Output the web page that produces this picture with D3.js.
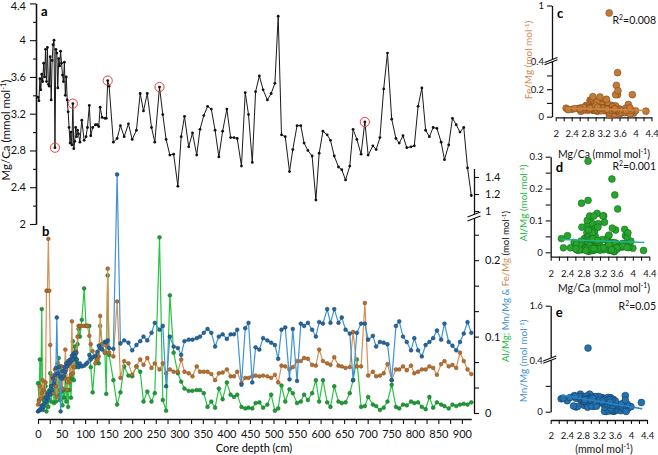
<!DOCTYPE html>
<html>
<head>
<meta charset="utf-8">
<script src="https://cdn.jsdelivr.net/npm/d3@7"></script>
<style>
body { margin: 0; background: #fff; }
svg { font-family: Lato, "Liberation Sans", sans-serif; }
</style>
</head>
<body>
<svg id="chart" width="658" height="455"></svg>
<script>
// core depth (cm) of each sample
const depth = [0,2,4,6,8,10,12,14,16,18,20,22,24,26,28,30,32,34,36,38,40,42,44,46,48,50,52,54,56,58,60,62,64,66,68,70,72,74,76,78,80,82,84,86,
  89,93,98,102,105,109,112,116,122,126,129,132,136,142,145,148,151,160,168,175,183,192,200,209,217,224,232,241,248,258,265,272,280,288,297,304,311,320,328,337,344,352,360,368,376,384,392,401,409,416,423,
  432,440,447,455,462,470,478,487,495,503,510,517,525,534,541,550,558,565,573,582,590,597,605,614,621,629,638,645,653,662,669,677,686,694,701,711,718,726,734,742,751,760,767,775,783,792,799,807,815,823,831,839,847,856,863,872,880,888,896,904,912,920];

// Mg/Ca (mmol/mol)
const mgCa = [3.38,3.34,3.58,3.46,3.63,3.55,3.75,3.6,3.9,3.55,3.92,3.52,3.5,3.82,3.35,3.78,3.95,4.0,2.83,3.9,3.86,3.48,3.8,3.72,3.88,3.75,3.62,3.55,3.76,3.4,3.6,3.35,3.22,3.05,2.88,3.0,2.86,3.31,2.82,2.9,3.05,2.95,3.02,2.98,
  2.89,3.13,2.91,2.95,3.05,3.29,2.96,3.05,3.08,3.08,3.06,3.27,3.16,3.15,3.15,3.56,3.5,2.89,2.93,3.07,2.95,3.09,2.92,3.02,3.42,3.23,3.42,3.05,2.89,3.49,3.19,2.92,2.75,2.76,2.41,2.95,3.17,2.84,2.99,2.75,3.03,3.18,3.28,3.25,3.02,2.73,3.01,3.25,2.94,2.94,2.93,
  2.63,3.43,3.19,2.67,3.44,3.61,3.46,3.35,3.42,3.53,4.26,2.97,2.95,2.57,2.81,3.07,3.07,2.88,2.8,2.74,2.26,2.77,3.01,2.97,2.91,2.74,2.62,2.59,2.48,2.63,3.03,2.92,2.76,3.11,2.75,2.85,2.81,2.94,3.47,3.86,3.14,2.93,2.88,2.96,2.83,2.84,2.85,3.28,3.48,3.02,2.95,3.05,3.04,2.89,2.7,2.86,3.15,3.08,3.0,3.05,2.61,2.31];

// Fe/Mg (mol/mol)
const feMg = [0.011,0.015,0.035,0.019,0.026,0.043,0.03,0.02,0.04,0.16,0.16,0.228,0.16,0.089,0.035,0.048,0.026,0.043,0.057,0.035,0.021,0.065,0.054,0.03,0.048,0.061,0.032,0.05,0.045,0.083,0.057,0.03,0.045,0.04,0.065,0.05,0.12,0.052,0.06,0.07,0.081,0.079,0.1,0.114,
  0.114,0.114,0.114,0.114,0.114,0.101,0.09,0.081,0.065,0.07,0.074,0.127,0.09,0.079,0.088,0.189,0.079,0.074,0.146,0.046,0.068,0.065,0.05,0.061,0.07,0.063,0.072,0.059,0.065,0.057,0.065,0.052,0.057,0.054,0.054,0.07,0.054,0.052,0.048,0.061,0.054,0.054,0.054,0.051,0.043,0.052,0.053,0.057,0.048,0.048,0.054,
  0.039,0.046,0.046,0.048,0.049,0.048,0.049,0.048,0.046,0.05,0.04,0.062,0.061,0.057,0.06,0.068,0.068,0.072,0.071,0.063,0.062,0.083,0.068,0.065,0.063,0.073,0.062,0.061,0.059,0.06,0.106,0.061,0.061,0.144,0.049,0.054,0.048,0.049,0.052,0.064,0.043,0.057,0.057,0.061,0.056,0.062,0.052,0.054,0.057,0.057,0.061,0.059,0.05,0.064,0.068,0.061,0.063,0.059,0.079,0.068,0.057,0.051];

// Al/Mg (mol/mol)
const alMg = [0.039,0.017,0.07,0.03,0.136,0.008,0.017,0.028,0.035,0.002,0.021,0.008,0.03,0.052,0.015,0.026,0.035,0.013,0.043,0.015,0.048,0.024,0.072,0.017,0.061,0.028,0.01,0.03,0.02,0.05,0.015,0.04,0.008,0.03,0.061,0.02,0.045,0.094,0.043,0.087,0.06,0.07,0.09,0.11,
  0.1,0.122,0.163,0.114,0.114,0.114,0.06,0.027,0.074,0.074,0.065,0.114,0.09,0.079,0.025,0.18,0.076,0.043,0.011,0.027,0.061,0.049,0.048,0.061,0.054,0.015,0.028,0.015,0.026,0.23,0.017,0.003,0.154,0.079,0.052,0.041,0.032,0.029,0.029,0.03,0.03,0.026,0.008,0.015,0.007,0.032,0.018,0.04,0.024,0.021,0.024,
  0.008,0.006,0.007,0.006,0.013,0.014,0.007,0.011,0.024,0.003,0.006,0.036,0.015,0.031,0.026,0.013,0.015,0.024,0.017,0.026,0.043,0.015,0.043,0.014,0.008,0.035,0.015,0.013,0.014,0.026,0.043,0.07,0.008,0.009,0.021,0.011,0.009,0.004,0.007,0.015,0.037,0.008,0.006,0.011,0.01,0.015,0.013,0.014,0.008,0.005,0.021,0.007,0.014,0.011,0.009,0.006,0.011,0.009,0.011,0.012,0.011,0.014];

// Mn/Mg (mol/mol)
const mnMg = [0.002,0.003,0.004,0.006,0.01,0.004,0.008,0.012,0.02,0.015,0.025,0.019,0.028,0.024,0.035,0.03,0.045,0.039,0.05,0.059,0.125,0.052,0.06,0.048,0.002,0.045,0.055,0.048,0.06,0.054,0.065,0.061,0.068,0.065,0.07,0.068,0.075,0.07,0.078,0.074,0.079,0.07,0.065,0.06,
  0.065,0.061,0.062,0.064,0.066,0.076,0.07,0.073,0.075,0.08,0.088,0.085,0.083,0.093,0.093,0.095,0.085,0.084,1.43,0.091,0.095,0.092,0.082,0.089,0.094,0.1,0.095,0.105,0.118,0.109,0.114,0.035,0.1,0.087,0.085,0.076,0.094,0.096,0.096,0.098,0.1,0.105,0.11,0.105,0.087,0.1,0.103,0.097,0.103,0.103,0.109,
  0.037,0.111,0.118,0.04,0.086,0.083,0.098,0.095,0.092,0.089,0.071,0.109,0.112,0.044,0.11,0.042,0.117,0.114,0.118,0.109,0.1,0.119,0.117,0.136,0.118,0.136,0.118,0.125,0.109,0.104,0.043,0.105,0.117,0.117,0.096,0.101,0.087,0.093,0.092,0.09,0.043,0.114,0.12,0.1,0.093,0.082,0.098,0.082,0.074,0.089,0.093,0.098,0.108,0.096,0.117,0.093,0.088,0.082,0.093,0.104,0.119,0.105];

// samples circled in red in panel a (depth, cm)
const markedDepths = [36, 74, 148, 258, 694];

// points that only show up in the cross-plots [Mg/Ca, ratio]
const feMgExtra = [[3.34, 0.92], [3.55, 0.32]];
const alMgExtra = [[2.91, 0.286]];

// regression lines as drawn [Mg/Ca, ratio] end points
const fitFe = [[2.25, 0.062], [4.28, 0.045]];
const fitAl = [[2.27, 0.04], [4.28, 0.031]];
const fitMn = [[2.27, 0.128], [4.28, 0.022]];
const r2Labels = ["0.008", "0.001", "0.05"];

const mgCaTicks = [2, 2.4, 2.8, 3.2, 3.6, 4, 4.4];
const ratioTicks = [0, 0.1, 0.2, 1, 1.2, 1.4];

const svg = d3.select("#chart");
const ink = "#111";
const FONT = "Lato, 'Liberation Sans', sans-serif";

const samples = depth.map((d, i) => ({depth: d, mgCa: mgCa[i], fe: feMg[i], al: alMg[i], mn: mnMg[i]}));

function styleAxis(g, size) {
    g.attr("font-family", FONT).attr("font-size", size);
    g.select(".domain").attr("stroke", ink).attr("stroke-width", 1.3);
    g.selectAll(".tick line").attr("stroke", ink).attr("stroke-width", 1.1);
    g.selectAll(".tick text").attr("fill", ink);
}

// text made of coloured pieces, [string, colour, superscript?]
function richText(sel, parts) {
    parts.forEach(([s, c, sup]) => {
        const t = sel.append("tspan").text(s).attr("fill", c || ink);
        if (sup) t.attr("baseline-shift", "super").attr("font-size", "65%");
    });
    return sel;
}

function axisBreak(cx, cy, w, gap) {
    const g = svg.append("g");
    g.append("polygon")
        .attr("points", [[cx - w, cy + 2.5], [cx + w, cy - 2.5], [cx + w, cy - 2.5 + gap], [cx - w, cy + 2.5 + gap]].join(" "))
        .attr("fill", "#fff");
    [0, gap].forEach(o => g.append("line")
        .attr("x1", cx - w).attr("y1", cy + 2.5 + o)
        .attr("x2", cx + w).attr("y2", cy - 2.5 + o)
        .attr("stroke", ink).attr("stroke-width", 1.1));
}

// ---------- panel a : Mg/Ca vs depth ----------
const x = d3.scaleLinear().domain([0, 920]).range([38, 471.3]);
const yA = d3.scaleLinear().domain([2, 4.4]).range([224, 3.4]);

const gAminor = svg.append("g").attr("transform", "translate(36,0)")
    .call(d3.axisLeft(yA).tickValues(d3.range(2.2, 4.4, 0.4)).tickSize(3).tickSizeOuter(0).tickFormat(""));
styleAxis(gAminor, 11);
const gA = svg.append("g").attr("transform", "translate(36,0)")
    .call(d3.axisLeft(yA).tickValues(mgCaTicks).tickSize(6).tickSizeOuter(0).tickPadding(4).tickFormat(d => +d.toFixed(1)));
styleAxis(gA, 11);
gA.selectAll(".tick text").attr("dy", d => d === 4.4 ? "0.55em" : "0.32em");

richText(svg.append("text")
    .attr("transform", "translate(10,130) rotate(-90)")
    .attr("text-anchor", "middle").attr("font-size", 11.5).attr("font-family", FONT),
    [["Mg/Ca (mmol mol"], ["-1", ink, true], [")"]]);

const lineA = d3.line().x(d => x(d.depth)).y(d => yA(d.mgCa));
svg.append("path").datum(samples).attr("d", lineA)
    .attr("fill", "none").attr("stroke", "#1a1a1a").attr("stroke-width", 1);
svg.append("g").selectAll("circle").data(samples).join("circle")
    .attr("cx", d => x(d.depth)).attr("cy", d => yA(d.mgCa)).attr("r", 1.4).attr("fill", "#111");
svg.append("g").selectAll("circle").data(samples.filter(d => markedDepths.includes(d.depth))).join("circle")
    .attr("cx", d => x(d.depth)).attr("cy", d => yA(d.mgCa)).attr("r", 4.6)
    .attr("fill", "none").attr("stroke", "#e8413c").attr("stroke-width", 1);

svg.append("text").attr("x", 41).attr("y", 16).text("a")
    .attr("font-weight", "bold").attr("font-size", 13).attr("font-family", FONT);

// ---------- panel b : element ratios vs depth ----------
const yB = d3.scaleLinear().domain([0, 0.25, 1, 1.5]).range([413, 222, 211, 168.5]);

const gX = svg.append("g").attr("transform", "translate(0,419)")
    .call(d3.axisBottom(x).tickValues(d3.range(0, 901, 25)).tickSize(5).tickSizeOuter(0).tickPadding(6)
        .tickFormat(d => d % 50 === 0 ? d : ""));
styleAxis(gX, 11);
svg.append("text").attr("x", 254).attr("y", 452).attr("text-anchor", "middle")
    .attr("font-size", 11).attr("font-family", FONT).text("Core depth (cm)");

const bMinor = [1 / 30, 2 / 30, 4 / 30, 5 / 30, 7 / 30];
const gB = svg.append("g").attr("transform", "translate(474,0)")
    .call(d3.axisRight(yB).tickValues(ratioTicks.concat(bMinor)).tickSize(5).tickSizeOuter(0).tickPadding(6)
        .tickFormat(d => ratioTicks.includes(d) ? d : ""));
styleAxis(gB, 11);
axisBreak(474, 214.5, 6.5, 4);

richText(svg.append("text")
    .attr("transform", "translate(509,362) rotate(-90)")
    .attr("font-size", 9.6).attr("font-family", FONT),
    [["Al/Mg;", "#22b83c"], [" Mn/Mg &", "#3d92d8"], [" Fe/Mg", "#d08a4e"], [" (mol mol"], ["-1", ink, true], [")"]]);

const series = [
    {key: "al", line: "#2ac445", dot: "#1e9c37", edge: "#136b25"},
    {key: "fe", line: "#d4915a", dot: "#b66f30", edge: "#7f4c1c"},
    {key: "mn", line: "#3f93d6", dot: "#2466a0", edge: "#163f66"}
];
series.forEach(s => {
    const ln = d3.line().x(d => x(d.depth)).y(d => yB(d[s.key]));
    svg.append("path").datum(samples).attr("d", ln)
        .attr("fill", "none").attr("stroke", s.line).attr("stroke-width", 1.2);
    svg.append("g").selectAll("circle").data(samples).join("circle")
        .attr("cx", d => x(d.depth)).attr("cy", d => yB(d[s.key])).attr("r", 1.9)
        .attr("fill", s.dot).attr("stroke", s.edge).attr("stroke-width", 0.5);
});

svg.append("text").attr("x", 42).attr("y", 236).text("b")
    .attr("font-weight", "bold").attr("font-size", 13).attr("font-family", FONT);

// ---------- panels c, d, e : cross-plots against Mg/Ca ----------
const cross = [
    {
        id: "c", key: "fe", extra: feMgExtra, fit: fitFe, r2: r2Labels[0],
        x: d3.scaleLinear().domain([2, 4.4]).range([555.7, 651.5]),
        y: d3.scaleLinear().domain([0, 0.4, 1]).range([116.7, 61.7, 5.5]),
        yAxisX: 552, xAxisY: 117.3, xPad: 9,
        yTicks: [0, 0.1, 0.2, 0.3, 0.4, 1], yLabels: [0, 0.2, 0.4, 1], breakAt: 60,
        fill: "#c27a36", edge: "#7f4c1c", fitColor: "#cf8640", labelColor: "#d08a4e",
        name: "Fe/Mg", labelX: 532, labelY: 60, letterY: 18, r2Y: 24, title: "Mg/Ca (mmol mol", titleY: 158
    },
    {
        id: "d", key: "al", extra: alMgExtra, fit: fitAl, r2: r2Labels[1],
        x: d3.scaleLinear().domain([2, 4.4]).range([550.7, 649.3]),
        y: d3.scaleLinear().domain([-0.0138, 0.3]).range([256.7, 156.7]),
        yAxisX: 550.7, xAxisY: 256.7, xPad: 10,
        yTicks: [0, 0.05, 0.1, 0.15, 0.2, 0.25, 0.3], yLabels: [0, 0.1, 0.2, 0.3], breakAt: null,
        fill: "#27a62e", edge: "#156b1c", fitColor: "#23b38f", labelColor: "#22b83c",
        name: "Al/Mg", labelX: 527, labelY: 203, letterY: 172, r2Y: 170, title: "Mg/Ca (mmol mol", titleY: 292
    },
    {
        id: "e", key: "mn", extra: [], fit: fitMn, r2: r2Labels[2],
        x: d3.scaleLinear().domain([2, 4.4]).range([550.7, 647]),
        y: d3.scaleLinear().domain([0, 0.4, 1.39, 1.6]).range([411.7, 360, 358, 305.7]),
        yAxisX: 550.7, xAxisY: 420, xPad: 8,
        yTicks: [0, 0.2, 0.4, 1.6], yLabels: [0, 0.4, 1.6], breakAt: 358.5,
        fill: "#2472b0", edge: "#143f66", fitColor: "#2a80c4", labelColor: "#3d92d8",
        name: "Mn/Mg", labelX: 527, labelY: 361, letterY: 317, r2Y: 310, title: "(mmol mol", titleY: 453
    }
];

cross.forEach(p => {
    const gy = svg.append("g").attr("transform", `translate(${p.yAxisX},0)`)
        .call(d3.axisLeft(p.y).tickValues(p.yTicks).tickSize(5).tickSizeOuter(0).tickPadding(3)
            .tickFormat(d => p.yLabels.includes(d) ? d : ""));
    styleAxis(gy, 9.5);
    const gx = svg.append("g").attr("transform", `translate(0,${p.xAxisY})`)
        .call(d3.axisBottom(p.x).tickValues(d3.range(2, 4.41, 0.2)).tickSize(4).tickSizeOuter(0).tickPadding(p.xPad)
            .tickFormat(d => Math.round(d * 10) % 4 === 0 ? +d.toFixed(1) : ""));
    styleAxis(gx, 9.5);
    if (p.breakAt !== null) axisBreak(p.yAxisX - 1, p.breakAt, 6.5, 2.2);

    const pts = samples.map(d => [d.mgCa, d[p.key]]).concat(p.extra);
    svg.append("g").selectAll("circle").data(pts).join("circle")
        .attr("cx", d => p.x(d[0])).attr("cy", d => p.y(d[1])).attr("r", 3.4)
        .attr("fill", p.fill).attr("stroke", p.edge).attr("stroke-width", 0.6);

    svg.append("line")
        .attr("x1", p.x(p.fit[0][0])).attr("y1", p.y(p.fit[0][1]))
        .attr("x2", p.x(p.fit[1][0])).attr("y2", p.y(p.fit[1][1]))
        .attr("stroke", p.fitColor).attr("stroke-width", 1.5);

    richText(svg.append("text")
        .attr("transform", `translate(${p.labelX},${p.labelY}) rotate(-90)`)
        .attr("text-anchor", "middle").attr("font-size", 10).attr("font-family", FONT),
        [[p.name + " (mol mol", p.labelColor], ["-1", p.labelColor, true], [")", p.labelColor]]);

    richText(svg.append("text").attr("x", 604).attr("y", p.titleY).attr("text-anchor", "middle")
        .attr("font-size", 10.5).attr("font-family", FONT),
        [[p.title], ["-1", ink, true], [")"]]);

    svg.append("text").attr("x", p.yAxisX + 5).attr("y", p.letterY).text(p.id)
        .attr("font-weight", "bold").attr("font-size", 13).attr("font-family", FONT);

    richText(svg.append("text").attr("x", 656).attr("y", p.r2Y).attr("text-anchor", "end")
        .attr("font-size", 10.5).attr("font-family", FONT),
        [["R"], ["2", ink, true], ["=" + p.r2]]);
});
</script>
</body>
</html>
